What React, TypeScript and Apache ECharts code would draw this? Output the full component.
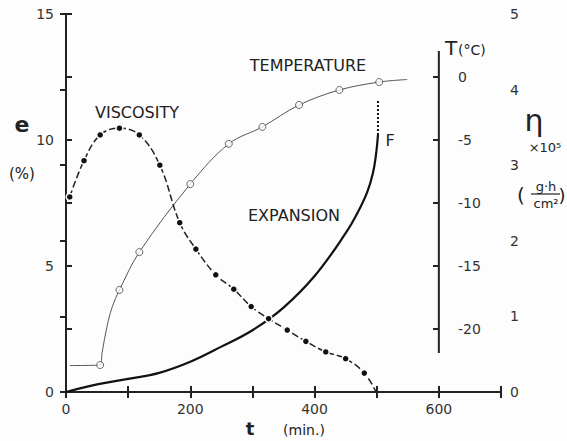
import React, { useEffect, useRef } from "react";
import * as echarts from "echarts";

// Expansion e (%) vs t (min)
const expT = [0, 50, 100, 150, 200, 250, 300, 350, 400, 450, 470, 485, 494, 499, 502];
const expE = [0, 0.3, 0.52, 0.76, 1.2, 1.8, 2.45, 3.35, 4.6, 6.3, 7.15, 7.95, 8.7, 9.45, 10.2];
// Fracture (dotted) segment
const fracT = [502, 502];
const fracE = [10.2, 11.6];

// Viscosity eta (x10^5 g·h/cm²)
const viscT = [6, 29, 55, 86, 118, 151, 183, 209, 241, 270, 298, 326, 356, 386, 418, 450, 480, 499];
const viscV = [2.58, 3.06, 3.4, 3.49, 3.4, 3.0, 2.24, 1.89, 1.55, 1.36, 1.13, 0.97, 0.82, 0.67, 0.53, 0.44, 0.25, 0];

// Temperature T (°C): curve and measured points
const tempLineT = [6, 55, 58, 66, 74, 86, 118, 200, 262, 316, 375, 440, 504, 549];
const tempLineV = [-22.9, -22.86, -21.9, -19.8, -18.3, -16.9, -13.9, -8.5, -5.3, -3.96, -2.22, -1.03, -0.4, -0.2];
const tempPtT = [55, 86, 118, 200, 262, 316, 375, 440, 504];
const tempPtV = [-22.86, -16.9, -13.9, -8.5, -5.3, -3.96, -2.22, -1.03, -0.4];

// Inner temperature axis line extent
const tAxisT = [600, 600];
const tAxisV = [2.06, -21.9];

const xTicks = [0, 200, 400, 600];
const eTicks = [0, 5, 10, 15];
const etaTicks = [0, 1, 2, 3, 4, 5];
const tempTicks = [0, -5, -10, -15, -20];

const zip = (a: number[], b: number[]) => a.map((v, i) => [v, b[i]]);

const FONT = "DejaVu Sans, sans-serif";
const INK = "#222";

export default function App() {
  const ref = useRef<HTMLDivElement>(null);
  useEffect(() => {
    if (!ref.current) return;
    const chart = echarts.init(ref.current, undefined, { renderer: "svg" });
    const axisLine = { lineStyle: { color: INK, width: 2 } };
    const tick = { inside: true, length: 6, lineStyle: { color: INK, width: 2 } };
    const label = { color: "#333", fontSize: 14, fontFamily: FONT };
    const txt = (text: string, x: number, y: number, font: string, align = "center") => ({
      type: "text",
      x,
      y,
      style: { text, font, fill: INK, textAlign: align, textVerticalAlign: "middle" },
    });
    chart.setOption({
      animation: false,
      backgroundColor: "#fdfdfd",
      grid: { left: 66, right: 66, top: 14, bottom: 49 },
      xAxis: [
        {
          type: "value",
          position: "bottom",
          min: 0,
          max: 700,
          interval: 100,
          axisLine,
          axisTick: tick,
          splitLine: { show: false },
          axisLabel: {
            ...label,
            margin: 10,
            formatter: (v: number) => (xTicks.includes(v) ? String(v) : ""),
          },
        },
        {
          type: "value",
          position: "top",
          min: 0,
          max: 700,
          interval: 100,
          axisLine,
          axisTick: tick,
          splitLine: { show: false },
          axisLabel: { show: false },
        },
      ],
      yAxis: [
        {
          type: "value",
          position: "left",
          min: 0,
          max: 15,
          interval: 2.5,
          axisLine: { show: true, ...axisLine },
          axisTick: { show: true, ...tick },
          splitLine: { show: false },
          axisLabel: {
            ...label,
            margin: 12,
            formatter: (v: number) => (eTicks.includes(v) ? String(v) : ""),
          },
        },
        {
          type: "value",
          position: "right",
          min: 0,
          max: 5,
          interval: 1,
          axisLine: { show: true, ...axisLine },
          axisTick: { show: true, ...tick },
          splitLine: { show: false },
          axisLabel: {
            ...label,
            margin: 9,
            formatter: (v: number) => (etaTicks.includes(v) ? String(v) : ""),
          },
        },
        {
          type: "value",
          position: "right",
          offset: -62,
          min: -25,
          max: 5,
          interval: 5,
          axisLine: { show: false },
          axisTick: { show: true, ...tick, customValues: tempTicks },
          splitLine: { show: false },
          axisLabel: { ...label, margin: 19, customValues: tempTicks },
        },
      ],
      series: [
        {
          type: "line",
          name: "T axis",
          xAxisIndex: 0,
          yAxisIndex: 2,
          data: zip(tAxisT, tAxisV),
          symbol: "none",
          lineStyle: { color: INK, width: 2 },
          silent: true,
        },
        {
          type: "line",
          name: "Temperature",
          xAxisIndex: 0,
          yAxisIndex: 2,
          data: zip(tempLineT, tempLineV),
          smooth: 0.35,
          symbol: "none",
          lineStyle: { color: "#555", width: 1 },
        },
        {
          type: "scatter",
          name: "Temperature points",
          xAxisIndex: 0,
          yAxisIndex: 2,
          data: zip(tempPtT, tempPtV),
          symbol: "circle",
          symbolSize: 7,
          itemStyle: { color: "#fdfdfd", borderColor: "#444", borderWidth: 1 },
          z: 5,
        },
        {
          type: "line",
          name: "Viscosity",
          xAxisIndex: 0,
          yAxisIndex: 1,
          data: zip(viscT, viscV).map((p, i) =>
            i === viscT.length - 1 ? { value: p, symbol: "none" } : { value: p }
          ),
          smooth: 0.4,
          symbol: "circle",
          symbolSize: 7,
          showAllSymbol: true,
          lineStyle: { color: INK, width: 1.5, type: [7, 3] },
          itemStyle: { color: "#111", borderColor: "#fdfdfd", borderWidth: 1.5 },
          z: 4,
        },
        {
          type: "line",
          name: "Expansion",
          xAxisIndex: 0,
          yAxisIndex: 0,
          data: zip(expT, expE),
          smooth: 0.4,
          symbol: "none",
          lineStyle: { color: "#111", width: 2.2 },
          z: 3,
        },
        {
          type: "line",
          name: "Fracture",
          xAxisIndex: 0,
          yAxisIndex: 0,
          data: zip(fracT, fracE),
          symbol: "none",
          lineStyle: { color: "#111", width: 2, type: [2, 2] },
        },
      ],
      graphic: [
        txt("e", 22, 124, `bold 22px ${FONT}`),
        txt("(%)", 22, 174, `15px ${FONT}`),
        txt("t", 250, 428, `bold 18px ${FONT}`),
        txt("(min.)", 304, 430, `14px ${FONT}`),
        txt("VISCOSITY", 137, 112, `16px ${FONT}`),
        txt("TEMPERATURE", 308, 65, `16px ${FONT}`),
        txt("EXPANSION", 294, 215, `16px ${FONT}`),
        txt("F", 390, 140, `16px ${FONT}`),
        txt("T", 445, 48, `20px ${FONT}`, "left"),
        txt("(°C)", 458, 50, `14px ${FONT}`, "left"),
        txt("η", 534, 120, `30px ${FONT}`),
        txt("×10⁵", 545, 147, `13px ${FONT}`),
        txt("(", 521, 195, `20px ${FONT}`),
        txt("g·h", 546, 186, `13px ${FONT}`),
        {
          type: "line",
          shape: { x1: 531, y1: 194, x2: 560, y2: 194 },
          style: { stroke: INK, lineWidth: 1.2 },
        },
        txt("cm²", 546, 203, `13px ${FONT}`),
        txt(")", 562, 195, `18px ${FONT}`),
      ],
    });
    return () => chart.dispose();
  }, []);
  return (
    <div
      ref={ref}
      style={{ position: "fixed", left: 0, top: 0, width: 567, height: 441 }}
    />
  );
}
